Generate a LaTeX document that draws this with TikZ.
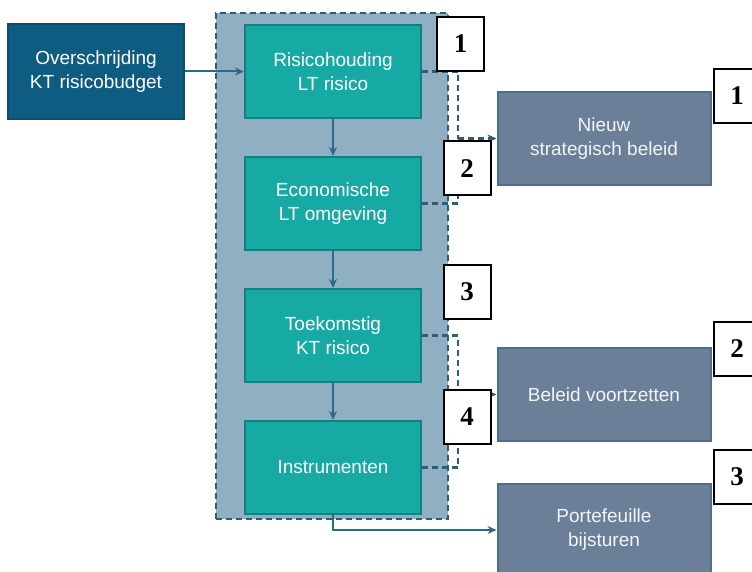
\documentclass[tikz,border=0pt]{standalone}
\usepackage{fontspec}
\setmainfont{Liberation Sans}
\newfontfamily\numfont{Liberation Serif}
\usepackage{xcolor}
\usetikzlibrary{shapes,arrows,arrows.meta,positioning}

\definecolor{donkerblauw}{HTML}{0E5C82}
\definecolor{turkoois}{HTML}{17A9A4}
\definecolor{turkooisrand}{HTML}{12807F}
\definecolor{kaderblauw}{HTML}{90AFC2}
\definecolor{kaderrand}{HTML}{2B5F74}
\definecolor{grijsblauw}{HTML}{6B7F99}
\definecolor{grijsrand}{HTML}{4E6C8C}
\definecolor{pijlkleur}{HTML}{2A6B8C}

\begin{document}
\begin{tikzpicture}[
    x=1pt, y=-1pt,
    node distance=37pt,
    >={Stealth[length=9pt, width=8pt]},
    stap/.style={rectangle, draw=turkooisrand, line width=2pt, fill=turkoois, text=white, minimum width=176pt, minimum height=93pt, align=center, font=\fontsize{19}{24}\selectfont},
    uitkomst/.style={rectangle, draw=grijsrand, line width=2pt, fill=grijsblauw, text=white!92!grijsblauw, minimum width=213pt, minimum height=93pt, align=center, font=\fontsize{19}{24}\selectfont},
    nummer/.style={rectangle, draw=black, line width=2pt, fill=white, minimum width=47pt, minimum height=54pt, font=\numfont\bfseries\fontsize{27}{27}\selectfont},
    arrow/.style={->, line width=2pt, draw=pijlkleur},
    stippel/.style={dash pattern=on 6pt off 4pt, line width=2.4pt, draw=kaderrand}
]
    \useasboundingbox (0,0) rectangle (752,572);
    \clip (0,0) rectangle (752,572);
    \node[rectangle, draw=kaderrand, dash pattern=on 6pt off 4pt, line width=2.4pt, fill=kaderblauw, minimum width=232pt, minimum height=506pt] (kader) at (332,266) {};

    \node[stap] (risico) at (333,71.5) {Risicohouding\\LT risico};
    \node[stap, below=of risico] (omgeving) {Economische\\LT omgeving};
    \node[stap, below=of omgeving] (toekomst) {Toekomstig\\KT risico};
    \node[stap, below=of toekomst] (instrumenten) {Instrumenten};
    \node[rectangle, draw=donkerblauw!85!black, line width=2pt, fill=donkerblauw, text=white, minimum width=176pt, minimum height=95pt, align=center, font=\fontsize{19}{24}\selectfont, left=59pt of risico] (overschrijding) {Overschrijding\\KT risicobudget};

    \node[uitkomst] (nieuw) at (604,138.5) {Nieuw\\strategisch beleid};
    \node[uitkomst] (voortzetten) at (604,394.5) {Beleid voortzetten};
    \node[uitkomst] (bijsturen) at (604,530) {Portefeuille\\bijsturen};

    \coordinate (splits1) at (458,138.5);
    \coordinate (splits2) at (458,394.5);

    \draw[arrow] (overschrijding) -- (risico);
    \draw[arrow] (risico) -- (omgeving);
    \draw[arrow] (omgeving) -- (toekomst);
    \draw[arrow] (toekomst) -- (instrumenten);
    \draw[arrow] (instrumenten.south) |- (bijsturen.west);

    \draw[stippel] (risico.east) -| (splits1);
    \draw[stippel] (omgeving.east) -| (splits1);
    \draw[stippel, ->] (splits1) -- (nieuw.west);
    \draw[stippel] (toekomst.east) -| (splits2);
    \draw[stippel] (instrumenten.east) -| (splits2);
    \draw[stippel, ->] (splits2) -- (voortzetten.west);

    \node[nummer] (n1) at (460.5,44) {1};
    \node[nummer] (n2) at (467,168.5) {2};
    \node[nummer] (n3) at (467,292) {3};
    \node[nummer] (n4) at (467,416.5) {4};
    \node[nummer] (r1) at (737,96) {1};
    \node[nummer] (r2) at (737,348.5) {2};
    \node[nummer] (r3) at (737,476.5) {3};
\end{tikzpicture}
\end{document}
